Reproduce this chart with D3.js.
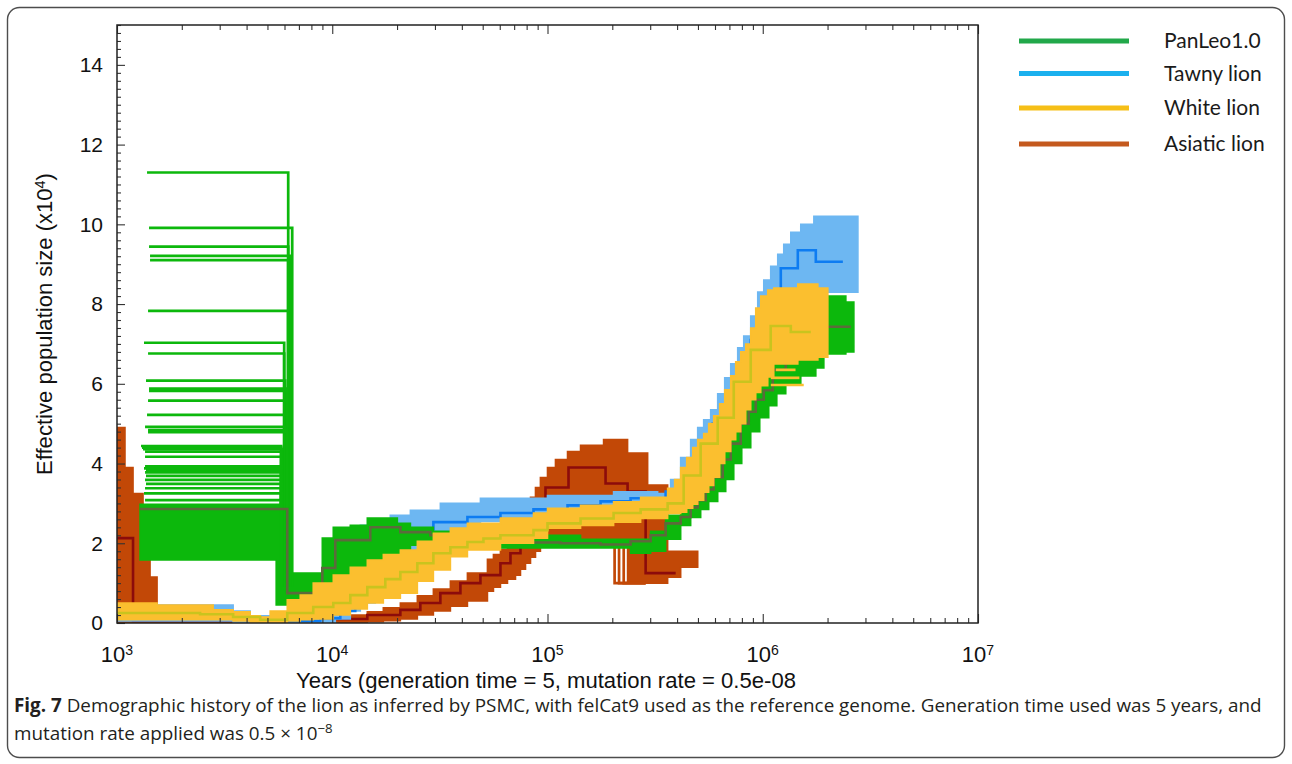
<!DOCTYPE html>
<html>
<head>
<meta charset="utf-8">
<script src="https://cdn.jsdelivr.net/npm/d3@7"></script>
<style>
  html, body { margin: 0; padding: 0; background: #fff; }
  svg { display: block; }
</style>
</head>
<body>
<svg id="chart" width="1292" height="764"></svg>
<script>
// ------------------------------------------------------------------
// PSMC demographic history of the lion (Ne in units of 10^4, time in years)
// Each series: step start times (years) + Ne; the last entry closes the final step.
// ------------------------------------------------------------------
const seriesNames = ["PanLeo1.0", "Tawny lion", "White lion", "Asiatic lion"];
const yTickValues = [0, 2, 4, 6, 8, 10, 12, 14];
const xTickExponents = [3, 4, 5, 6, 7];

// PanLeo1.0 point estimate
const panleoYears = [1280, 6180, 8990, 10330, 15020, 20720, 28560, 37330, 48800, 74890,
  114960, 176400, 243200, 301300, 353900, 415600, 462500, 498700, 543000, 591600,
  651600, 710100, 790200, 860700, 927700, 1011000, 1113000, 1279000, 1455000, 1709000,
  1922000, 2566000];
const panleoNe = [2.86, 0.75, 1.38, 2.08, 2.4, 2.28, 2.2, 2.12, 2.05, 2.02,
  2.0, 1.97, 2.05, 2.2, 2.5, 2.66, 2.9, 3.08, 3.35, 3.66,
  4.1, 4.5, 5.0, 5.3, 5.6, 5.84, 6.35, 6.6, 6.97, 7.2,
  7.43, 7.43];
// PanLeo1.0 bootstrap envelope
const panleoBandYears = [1280, 5490, 6180, 8990, 10110, 12130, 14550, 20060, 23070, 29500,
  39390, 48800, 142400, 243200, 301300, 353900, 415600, 462500, 514800, 560900,
  617600, 672900, 733300, 798700, 879400, 968300, 1066000, 1162000, 1279000, 1502000,
  1764000, 1922000, 2432000, 2650000];
const panleoBandLow = [1.58, 0.45, 0.45, 0.6, 0.9, 1.1, 1.3, 1.75, 1.95, 2.05,
  1.95, 1.88, 1.88, 1.75, 1.8, 2.1, 2.45, 2.65, 2.85, 3.05,
  3.3, 3.6, 4.0, 4.4, 4.8, 5.15, 5.45, 5.75, 6.0, 6.2,
  6.4, 6.75, 6.8, 6.8];
const panleoBandHigh = [2.98, 2.98, 1.25, 2.13, 2.4, 2.45, 2.63, 2.5, 2.4, 2.3,
  2.25, 2.2, 2.1, 2.1, 2.3, 2.7, 3.0, 3.25, 3.5, 3.8,
  4.2, 4.6, 5.0, 5.4, 5.9, 6.3, 6.6, 6.9, 7.0, 7.3,
  7.8, 8.2, 8.05, 8.05];
// PanLeo1.0 bootstrap replicates with high recent estimates
const panleoReplicateNe = [11.3, 9.91, 9.44, 9.21, 9.1, 7.83, 7.03, 6.76, 6.08, 5.88,
  5.82, 5.58, 5.22, 4.92, 4.84, 4.79, 4.44, 4.4, 4.36, 4.3,
  4.17, 3.93, 3.88, 3.83, 3.78, 3.69, 3.59, 3.49, 3.38, 3.25, 3.08];
const panleoReplicateStart = [1379, 1409, 1409, 1424, 1424, 1394, 1335, 1394, 1364, 1409,
  1409, 1394, 1379, 1350, 1394, 1394, 1293, 1307, 1321, 1350,
  1350, 1350, 1335, 1364, 1350, 1364, 1350, 1364, 1350, 1335, 1350];
const panleoReplicateEnd = [6243, 6516, 6243, 6377, 6243, 6243, 5980, 5980, 6045, 6176,
  6176, 6176, 6176, 6045, 6176, 6176, 5791, 5791, 5853, 5791,
  5791, 5853, 5853, 5791, 5791, 5853, 5791, 5853, 5791, 5853, 5791];

// Tawny lion point estimate
const tawnyYears = [1000, 2186, 3464, 4626, 8796, 10900, 12790, 15020, 17640, 20720,
  24320, 29500, 42460, 60450, 86090, 123900, 176400, 243200, 324800, 353900,
  393900, 452700, 514800, 585300, 672900, 773400, 879400, 1000000, 1213000, 1455000,
  1764000, 2356000];
const tawnyNe = [0.3, 0.25, 0.12, 0.05, 0.12, 0.3, 0.6, 1.0, 1.5, 2.0,
  2.35, 2.53, 2.66, 2.76, 2.85, 2.95, 3.05, 3.13, 3.08, 3.3,
  3.5, 4.0, 4.4, 5.0, 5.7, 6.4, 7.1, 7.85, 8.9, 9.35,
  9.06, 9.06];
// Tawny lion bootstrap envelope
const tawnyBandYears = [1000, 3464, 4155, 5148, 8796, 10330, 12130, 13500, 15850, 18610,
  23070, 31790, 48800, 100000, 202800, 324800, 373300, 415600, 462500, 498700,
  531600, 573000, 617600, 665800, 710100, 765100, 816000, 879400, 947900, 1011000,
  1089000, 1174000, 1252000, 1350000, 1502000, 1728000, 2767000];
const tawnyBandLow = [0.05, 0.02, 0.0, 0.0, 0.02, 0.1, 0.3, 0.5, 0.8, 1.2,
  1.8, 2.2, 2.55, 2.7, 2.95, 3.0, 3.1, 3.1, 3.3, 3.4,
  3.6, 3.9, 4.3, 4.6, 4.9, 5.2, 5.5, 5.9, 6.3, 6.7,
  7.2, 7.6, 7.9, 8.1, 8.2, 8.3, 8.3];
const tawnyBandHigh = [0.45, 0.3, 0.18, 0.12, 0.3, 0.8, 1.6, 2.45, 2.6, 2.7,
  2.83, 3.0, 3.13, 3.2, 3.29, 3.25, 3.6, 4.15, 4.6, 4.9,
  5.1, 5.35, 5.75, 6.15, 6.5, 6.9, 7.2, 7.7, 8.3, 8.6,
  8.95, 9.25, 9.5, 9.8, 10.0, 10.2, 10.2];

// White lion point estimate
const whiteYears = [1000, 2432, 3464, 4626, 6180, 8160, 10110, 12130, 14550, 17640,
  20720, 24850, 29500, 35390, 42460, 50390, 60450, 86090, 100000, 142400,
  202800, 270800, 361500, 429200, 514800, 617600, 733300, 879400, 1089000, 1350000,
  1672000];
const whiteNe = [0.25, 0.22, 0.15, 0.08, 0.25, 0.4, 0.5, 0.7, 0.9, 1.1,
  1.28, 1.5, 1.75, 1.9, 2.03, 2.12, 2.2, 2.33, 2.5, 2.62,
  2.76, 2.85, 3.0, 3.7, 4.5, 5.15, 6.05, 6.85, 7.45, 7.3,
  7.3];
// White lion bootstrap envelope
const whiteBandYears = [1000, 1535, 2796, 3464, 4155, 4626, 5148, 6180, 7100, 8160,
  10110, 12130, 14550, 17270, 20720, 24850, 29500, 35390, 42460, 60450,
  86090, 100000, 142400, 202800, 270800, 361500, 389700, 415600, 443200, 472700,
  498700, 531600, 560900, 591600, 631000, 665800, 710100, 748800, 790200, 833500,
  879400, 927700, 978800, 1055000, 1125000, 1455000, 1803000, 2006000];
const whiteBandLow = [0.08, 0.08, 0.08, 0.05, 0.02, 0.0, 0.02, 0.05, 0.08, 0.1,
  0.2, 0.35, 0.5, 0.62, 0.75, 1.05, 1.33, 1.66, 1.83, 2.0,
  2.13, 2.38, 2.45, 2.53, 2.62, 2.75, 2.75, 2.78, 2.88, 2.98,
  3.08, 3.28, 3.45, 3.66, 4.0, 4.3, 4.6, 4.8, 5.0, 5.35,
  5.6, 5.78, 5.95, 6.17, 6.5, 6.6, 6.67, 6.67];
const whiteBandHigh = [0.5, 0.45, 0.33, 0.28, 0.18, 0.15, 0.3, 0.58, 0.7, 1.0,
  1.2, 1.4, 1.58, 1.72, 1.83, 2.05, 2.25, 2.38, 2.5, 2.63,
  2.76, 2.88, 2.95, 3.04, 3.15, 3.38, 3.6, 3.9, 4.15, 4.4,
  4.6, 4.75, 5.0, 5.2, 5.5, 5.85, 6.2, 6.55, 6.8, 7.0,
  7.4, 7.9, 8.2, 8.35, 8.4, 8.5, 8.4, 8.4];
// White lion replicates reaching past the envelope
const whiteReplicateNe = [5.97, 6.15, 6.35];
const whiteReplicateStart = [1090000, 1090000, 1150000];
const whiteReplicateEnd = [1550000, 1480000, 1420000];

// Asiatic lion point estimate
const asiaticYears = [1000, 1187, 7100, 10110, 14550, 20720, 25660, 31790, 39390, 48800,
  60450, 67290, 74890, 83370, 97880, 125200, 186100, 235500, 285700, 393900];
const asiaticNe = [2.13, 0.05, 0.05, 0.1, 0.2, 0.33, 0.5, 0.75, 1.0, 1.2,
  1.5, 1.75, 2.2, 2.8, 3.4, 3.9, 3.5, 3.3, 1.25, 1.25];
// Asiatic lion bootstrap envelope
const asiaticBandYears = [1000, 1089, 1187, 1321, 1424, 1535, 1764, 7100, 10110, 12130,
  14550, 17270, 20720, 24850, 29500, 35390, 42460, 52600, 56090, 60450,
  65170, 71000, 74890, 79030, 83370, 87940, 92700, 100000, 108900, 123900,
  142400, 167200, 182200, 235500, 291900, 361500, 415600, 498700];
const asiaticBandLow = [0.0, 0.0, 0.0, 0.0, 0.0, 0.0, 0.0, 0.0, 0.0, 0.0,
  0.03, 0.06, 0.1, 0.2, 0.3, 0.42, 0.55, 0.8, 0.9, 1.0,
  1.1, 1.2, 1.35, 1.5, 1.65, 1.8, 1.9, 2.0, 2.05, 2.1,
  2.1, 1.9, 1.9, 1.0, 1.0, 1.15, 1.4, 1.6];
const asiaticBandHigh = [4.9, 3.9, 3.25, 2.2, 1.15, 0.3, 0.12, 0.1, 0.15, 0.2,
  0.28, 0.38, 0.5, 0.68, 0.85, 1.05, 1.25, 1.6, 1.72, 1.85,
  2.1, 2.4, 2.65, 2.9, 3.15, 3.4, 3.65, 3.9, 4.1, 4.3,
  4.46, 4.46, 4.6, 4.26, 3.46, 1.8, 1.8, 1.75];
// Asiatic lion replicates dropping below the envelope
const asiaticReplicateStart = [205000, 215000, 226000];
const asiaticReplicateTop = [1.9, 1.9, 1.9];
const asiaticReplicateBottom = [1.0, 1.0, 1.0];
const asiaticReplicateEnd = [285700, 285700, 285700];

// ------------------------------------------------------------------
const plot = { left: 117, right: 978, top: 25, bottom: 623 };
const x = d3.scaleLog().domain([1e3, 1e7]).range([plot.left, plot.right]);
const y = d3.scaleLinear().domain([0, 15]).range([plot.bottom, plot.top]);

const svg = d3.select("#chart");
const tickFont = "'Liberation Sans', Arial, Helvetica, sans-serif";

// card outline
svg.append("rect")
  .attr("x", 7.5).attr("y", 7.5).attr("width", 1277).attr("height", 750)
  .attr("rx", 12).attr("fill", "#fff")
  .attr("stroke", "#4d4d4d").attr("stroke-width", 1.4);

svg.append("clipPath").attr("id", "plotClip").append("rect")
  .attr("x", plot.left).attr("y", plot.top)
  .attr("width", plot.right - plot.left).attr("height", plot.bottom - plot.top);

const steps = (years, vals) => years.map((t, i) => ({ t, v: vals[i] }));
const band = (years, lo, hi) => years.map((t, i) => ({ t, lo: lo[i], hi: hi[i] }));

const areaGen = d3.area().x(d => x(d.t)).y0(d => y(d.lo)).y1(d => y(d.hi)).curve(d3.curveStepAfter);
const stepLine = d3.line().x(d => x(d.t)).y(d => y(d.v)).curve(d3.curveStepAfter);
const segLine = d3.line().x(d => x(d[0])).y(d => y(d[1]));

const series = [
  {
    band: band(asiaticBandYears, asiaticBandLow, asiaticBandHigh),
    main: steps(asiaticYears, asiaticNe), bandColor: "#c24807", mainColor: "#8c0b0b",
    reps: asiaticReplicateStart.map((s, i) => [[s, asiaticReplicateTop[i]], [s, asiaticReplicateBottom[i]], [asiaticReplicateEnd[i], asiaticReplicateBottom[i]]])
  },
  {
    band: band(tawnyBandYears, tawnyBandLow, tawnyBandHigh),
    main: steps(tawnyYears, tawnyNe), bandColor: "#6db7f2", mainColor: "#0d7cf2", reps: []
  },
  {
    band: band(panleoBandYears, panleoBandLow, panleoBandHigh),
    main: steps(panleoYears, panleoNe), bandColor: "#0cb80c", mainColor: "#5c6a3c",
    reps: panleoReplicateNe.map((h, i) => [[panleoReplicateStart[i], h], [panleoReplicateEnd[i], h], [panleoReplicateEnd[i], 0.9]])
  },
  {
    band: band(whiteBandYears, whiteBandLow, whiteBandHigh),
    main: steps(whiteYears, whiteNe), bandColor: "#fbbf2f", mainColor: "#c9c41e",
    reps: whiteReplicateNe.map((h, i) => [[whiteReplicateStart[i], h], [whiteReplicateEnd[i], h]])
  }
];

const plotG = svg.append("g").attr("clip-path", "url(#plotClip)");
series.forEach(s => {
  const g = plotG.append("g");
  g.append("path").attr("d", areaGen(s.band))
    .attr("fill", s.bandColor).attr("stroke", s.bandColor)
    .attr("stroke-width", 1.6).attr("stroke-linejoin", "miter");
  g.selectAll("path.rep").data(s.reps).join("path").attr("class", "rep")
    .attr("d", segLine).attr("fill", "none")
    .attr("stroke", s.bandColor).attr("stroke-width", 2.7);
  g.append("path").attr("d", stepLine(s.main))
    .attr("fill", "none").attr("stroke", s.mainColor).attr("stroke-width", 2.6);
});

// ---- frame and ticks ----
const decades = xTickExponents.map(e => Math.pow(10, e));
const minorX = [];
xTickExponents.slice(0, -1).forEach(e => { for (let k = 2; k <= 9; k++) minorX.push(k * Math.pow(10, e)); });
const minorY = d3.range(0, 15.001, 0.2).filter(v => Math.abs(v / 2 - Math.round(v / 2)) > 1e-6);

function styleAxis(g) {
  g.select(".domain").remove();
  g.selectAll(".tick line").attr("stroke", "#333").attr("stroke-width", 1.1);
}

svg.append("g").attr("transform", `translate(0,${plot.bottom})`)
  .call(d3.axisBottom(x).tickValues(decades).tickSize(-9).tickFormat("")).call(styleAxis);
svg.append("g").attr("transform", `translate(0,${plot.bottom})`)
  .call(d3.axisBottom(x).tickValues(minorX).tickSize(-5).tickFormat("")).call(styleAxis);
svg.append("g").attr("transform", `translate(0,${plot.top})`)
  .call(d3.axisTop(x).tickValues(decades).tickSize(-9).tickFormat("")).call(styleAxis);
svg.append("g").attr("transform", `translate(0,${plot.top})`)
  .call(d3.axisTop(x).tickValues(minorX).tickSize(-5).tickFormat("")).call(styleAxis);

const yAxisG = svg.append("g").attr("transform", `translate(${plot.left},0)`)
  .call(d3.axisLeft(y).tickValues(yTickValues).tickSize(-8).tickPadding(14).tickFormat(d3.format("d")))
  .call(styleAxis);
yAxisG.selectAll(".tick text")
  .attr("font-family", tickFont).attr("font-size", 21).attr("fill", "#111");
svg.append("g").attr("transform", `translate(${plot.left},0)`)
  .call(d3.axisLeft(y).tickValues(minorY).tickSize(-4).tickFormat("")).call(styleAxis);

svg.append("rect")
  .attr("x", plot.left).attr("y", plot.top)
  .attr("width", plot.right - plot.left).attr("height", plot.bottom - plot.top)
  .attr("fill", "none").attr("stroke", "#222").attr("stroke-width", 1.5);

// x tick labels as powers of ten
const xl = svg.append("g").attr("font-family", tickFont).attr("fill", "#111");
xTickExponents.forEach(e => {
  const t = xl.append("text").attr("x", x(Math.pow(10, e))).attr("y", 662)
    .attr("text-anchor", "middle").attr("font-size", 22);
  t.append("tspan").text("10");
  t.append("tspan").attr("dy", "-0.48em").attr("font-size", "0.64em").text(e);
});

// axis titles
const xTitle = svg.append("text").attr("x", 546).attr("y", 688)
  .attr("text-anchor", "middle").attr("font-family", tickFont)
  .attr("font-size", 20).attr("fill", "#111")
  .text("Years (generation time = 5, mutation rate = 0.5e-08");

const yTitle = svg.append("text")
  .attr("transform", "translate(52,324) rotate(-90)")
  .attr("text-anchor", "middle").attr("font-family", tickFont)
  .attr("font-size", 20).attr("fill", "#111");
yTitle.append("tspan").text("Effective population size (x10");
yTitle.append("tspan").attr("dy", "-0.5em").attr("font-size", "0.65em").text("4");
yTitle.append("tspan").attr("dy", "0.32em").text(")");

function fitWidth(sel, target) {
  const w = sel.node().getComputedTextLength();
  const fs = parseFloat(sel.attr("font-size"));
  if (w > 0) sel.attr("font-size", (fs * target / w).toFixed(2));
}
fitWidth(xTitle, 500);
fitWidth(yTitle, 302);

// legend
const legendColors = ["#22a84a", "#1bb0ee", "#f6bf17", "#c4591e"];
const legendY = [41, 73.5, 108, 144];
const leg = svg.append("g");
seriesNames.forEach((n, i) => {
  leg.append("line").attr("x1", 1019).attr("x2", 1129)
    .attr("y1", legendY[i]).attr("y2", legendY[i])
    .attr("stroke", legendColors[i]).attr("stroke-width", 5);
  leg.append("text").attr("x", 1164).attr("y", legendY[i]).attr("dy", "0.35em")
    .attr("font-family", "Lato, 'Open Sans', sans-serif").attr("font-size", 21)
    .attr("fill", "#1a1a1a").text(n);
});

// caption
const capFont = "'Open Sans', 'Noto Sans', sans-serif";
const cap1 = svg.append("text").attr("x", 14).attr("y", 712)
  .attr("font-family", capFont).attr("font-size", 17).attr("fill", "#231f20");
cap1.append("tspan").attr("font-weight", "bold").text("Fig. 7");
cap1.append("tspan").text(" Demographic history of the lion as inferred by PSMC, with felCat9 used as the reference genome. Generation time used was 5 years, and");
fitWidth(cap1, 1248);
const cap2 = svg.append("text").attr("x", 14).attr("y", 740)
  .attr("font-family", capFont).attr("font-size", cap1.attr("font-size")).attr("fill", "#231f20");
cap2.append("tspan").text("mutation rate applied was 0.5 \u00d7 10");
cap2.append("tspan").attr("dy", "-0.55em").attr("font-size", "0.7em").text("\u22128");
</script>
</body>
</html>
